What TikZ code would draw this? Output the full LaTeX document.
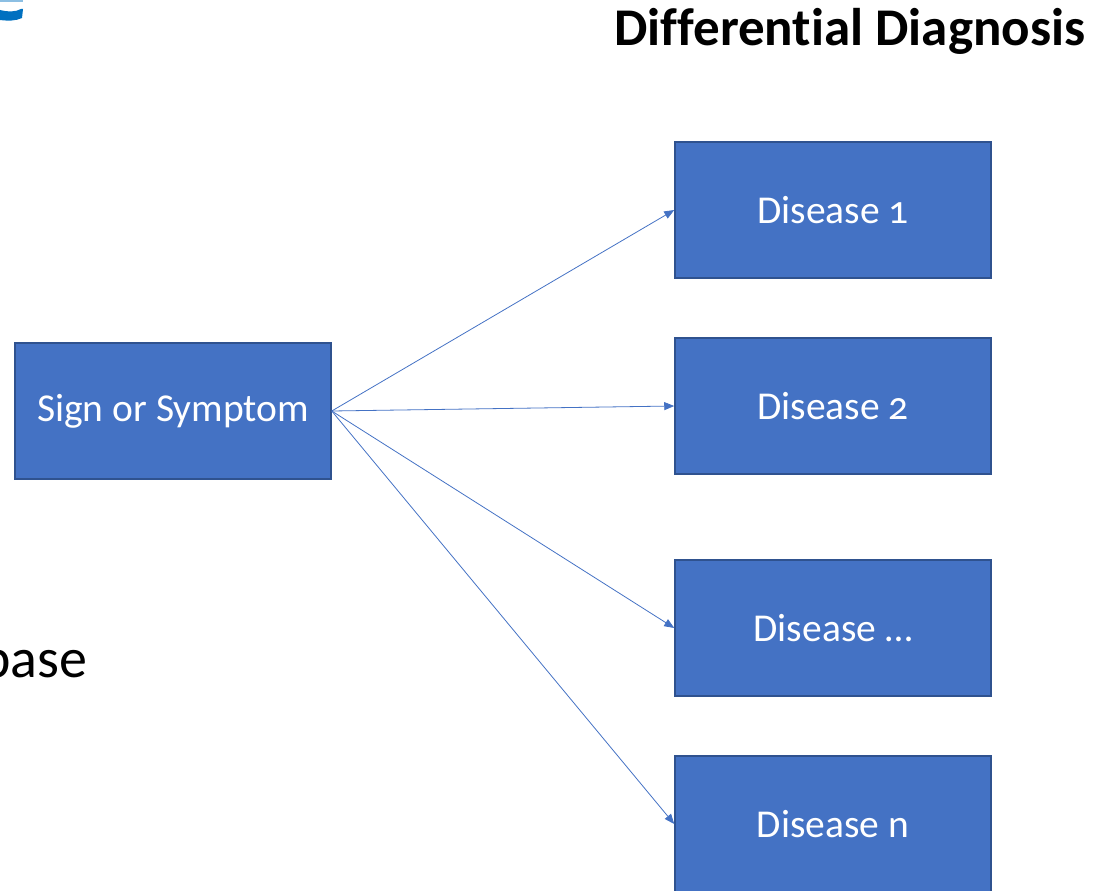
\documentclass[tikz,border=0pt]{standalone}
\usepackage{fontspec}
\setmainfont{Carlito}[Numbers=OldStyle, Ligatures=NoCommon]
\usetikzlibrary{arrows.meta}
\definecolor{boxblue}{HTML}{4472C4}
\definecolor{boxedge}{HTML}{2F528F}
\definecolor{logoblue}{HTML}{0070C0}

\begin{document}
\begin{tikzpicture}[x=1pt, y=-1pt, >={Triangle[length=10pt, width=8pt]},
    dbox/.style={draw=boxedge, line width=1.5pt, fill=boxblue, text=white,
      minimum width=316pt, minimum height=136pt, inner sep=0pt,
      font=\fontsize{39.5}{44}\selectfont}]
  \useasboundingbox (0,0) rectangle (1112,891);

  % Titel und Reste der Folie
  \node[anchor=base east, font=\fontsize{53}{60}\selectfont\bfseries] (title) at (1089,46) {Differential Diagnosis};
  \node[anchor=base west, font=\fontsize{56}{64}\selectfont] (base) at (-22,677) {base};
  \fill[logoblue] (0,10) .. controls (8,12) and (16,12) .. (21,9) -- (23,9) -- (22,18) .. controls (16,21) and (8,21) .. (0,20) -- cycle;
  \fill[logoblue!45] (0,0) rectangle (23,2);

  % Kaestchen
  \node[dbox] (sign) at (173,411) {Sign or Symptom};
  \node[dbox] (d1) at (833,210) {Disease 1};
  \node[dbox] (d2) at (833,406) {Disease 2};
  \node[dbox] (d3) at (833,628) {Disease …};
  \node[dbox] (dn) at (833,824) {Disease n};

  % Pfeile
  \foreach \d in {d1, d2, d3, dn}
    \draw[->, boxblue, line width=0.8pt] (sign.east) -- (\d.west);
\end{tikzpicture}
\end{document}
